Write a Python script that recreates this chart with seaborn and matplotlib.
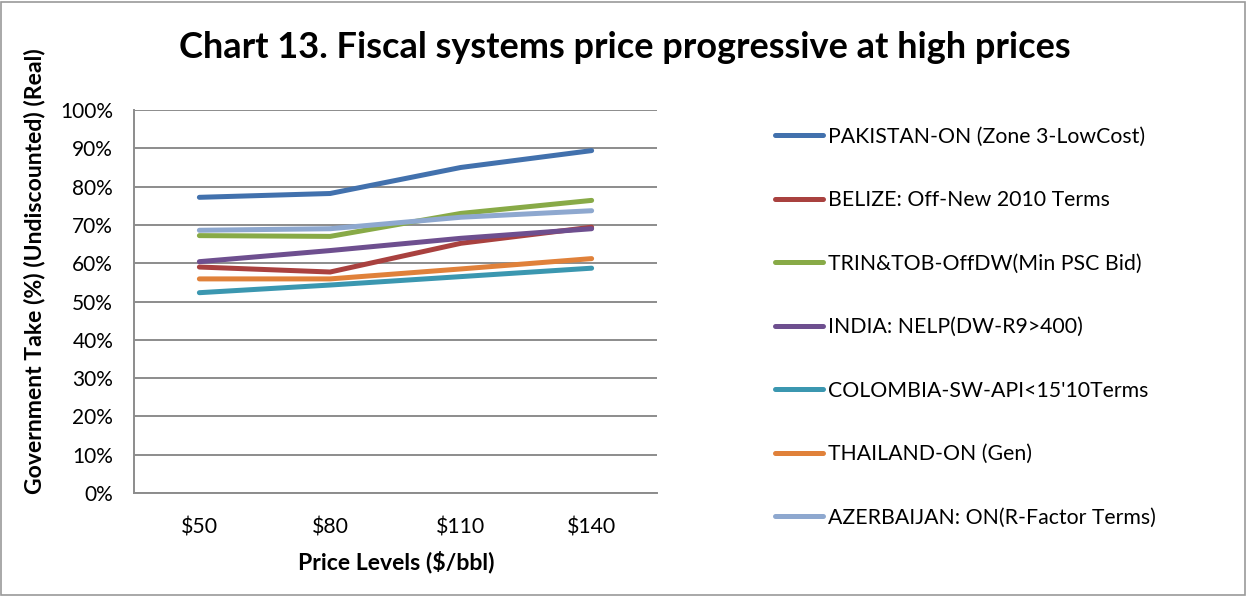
import matplotlib
matplotlib.use("Agg")
import matplotlib.pyplot as plt
import seaborn as sns
import pandas as pd
from matplotlib.patches import Rectangle
from matplotlib.ticker import FixedLocator, FuncFormatter

# ---- data ----
prices = ["$50", "$80", "$110", "$140"]
series_names = [
    "PAKISTAN-ON (Zone 3-LowCost)",
    "BELIZE: Off-New 2010 Terms",
    "TRIN&TOB-OffDW(Min PSC Bid)",
    "INDIA: NELP(DW-R9>400)",
    "COLOMBIA-SW-API<15'10Terms",
    "THAILAND-ON (Gen)",
    "AZERBAIJAN: ON(R-Factor Terms)",
]
pakistan = [77.2, 78.2, 85.0, 89.4]
belize = [59.0, 57.7, 65.2, 69.4]
trintob = [67.2, 67.0, 73.0, 76.4]
india = [60.4, 63.3, 66.5, 69.0]
colombia = [52.3, 54.3, 56.5, 58.7]
thailand = [55.9, 55.9, 58.5, 61.2]
azerbaijan = [68.6, 69.0, 72.0, 73.7]
y_ticks = [0, 10, 20, 30, 40, 50, 60, 70, 80, 90, 100]

colors = ["#4271AD", "#A9413F", "#88AA47", "#6E4F8F", "#3B97B0", "#E0813A", "#8EA8CF"]

values = [pakistan, belize, trintob, india, colombia, thailand, azerbaijan]
rows = []
for name, vals in zip(series_names, values):
    for p, v in zip(prices, vals):
        rows.append({"Price": p, "Take": v, "Series": name})
df = pd.DataFrame(rows)

sns.set_style("white")
plt.rcParams["font.family"] = ["Lato", "DejaVu Sans"]
plt.rcParams["text.color"] = "black"

fig = plt.figure(figsize=(12.47, 5.96), dpi=100)
ax = fig.add_axes([134 / 1247, 1 - 493 / 596, (657 - 134) / 1247, (493 - 110) / 596])

sns.lineplot(data=df, x="Price", y="Take", hue="Series", hue_order=series_names,
             palette=colors, sort=False, linewidth=3.6, ax=ax, legend=True)
for ln in ax.get_lines():
    ln.set_solid_capstyle("round")
    ln.set_solid_joinstyle("round")

ax.set_xlim(-0.5, 3.5)
ax.set_ylim(0, 100)
ax.yaxis.set_major_locator(FixedLocator(y_ticks))
ax.yaxis.set_major_formatter(FuncFormatter(lambda v, p: f"{int(v)}%"))
ax.set_xticks(range(len(prices)))
ax.set_xticklabels(prices)
ax.set_xticks([i - 0.5 for i in range(len(prices) + 1)], minor=True)
ax.tick_params(axis="x", which="major", length=0, pad=18, labelsize=15.3, labelcolor="black")
ax.tick_params(axis="x", which="minor", length=6, width=1.3, color="#8C8C8C", direction="out")
ax.tick_params(axis="y", which="major", length=6, width=1.3, color="#8C8C8C", direction="out",
               labelsize=15, pad=9, labelcolor="black")
ax.grid(axis="y", color="#8C8C8C", linewidth=1.4)
ax.grid(axis="x", visible=False)
ax.set_axisbelow(True)
for s in ["top", "right"]:
    ax.spines[s].set_visible(False)
for s in ["left", "bottom"]:
    ax.spines[s].set_color("#8C8C8C")
    ax.spines[s].set_linewidth(1.4)
ax.set_xlabel("")
ax.set_ylabel("")

# legend
handles, labels = ax.get_legend_handles_labels()
ax.legend_.remove()
leg = fig.legend(handles, labels, loc="upper left", bbox_to_anchor=(766 / 1247, 1 - 118 / 596),
                 frameon=False, fontsize=15.3, handlelength=2.3, handletextpad=0.24,
                 labelspacing=2.05, borderaxespad=0, labelcolor="black")
for h in leg.get_lines():
    h.set_linewidth(3.6)
    h.set_solid_capstyle("round")

fig.text(625 / 1247, 1 - 47 / 596, "Chart 13. Fiscal systems price progressive at high prices",
         ha="center", va="center", fontsize=26, fontweight="bold", color="black")
fig.text(396 / 1247, 1 - 562 / 596, "Price Levels ($/bbl)", ha="center", va="center",
         fontsize=16.6, fontweight="bold", color="black")
fig.text(35 / 1247, 1 - 271 / 596, "Government Take (%) (Undiscounted) (Real)", ha="center",
         va="center", rotation=90, fontsize=16.6, fontweight="bold", color="black")

fig.patches.append(Rectangle((1 / 1247, 1 / 596), 1 - 3 / 1247, 1 - 3 / 596,
                             transform=fig.transFigure, fill=False, edgecolor="#9A9A9A",
                             linewidth=1.2))

fig.savefig("out.png", dpi=100)
